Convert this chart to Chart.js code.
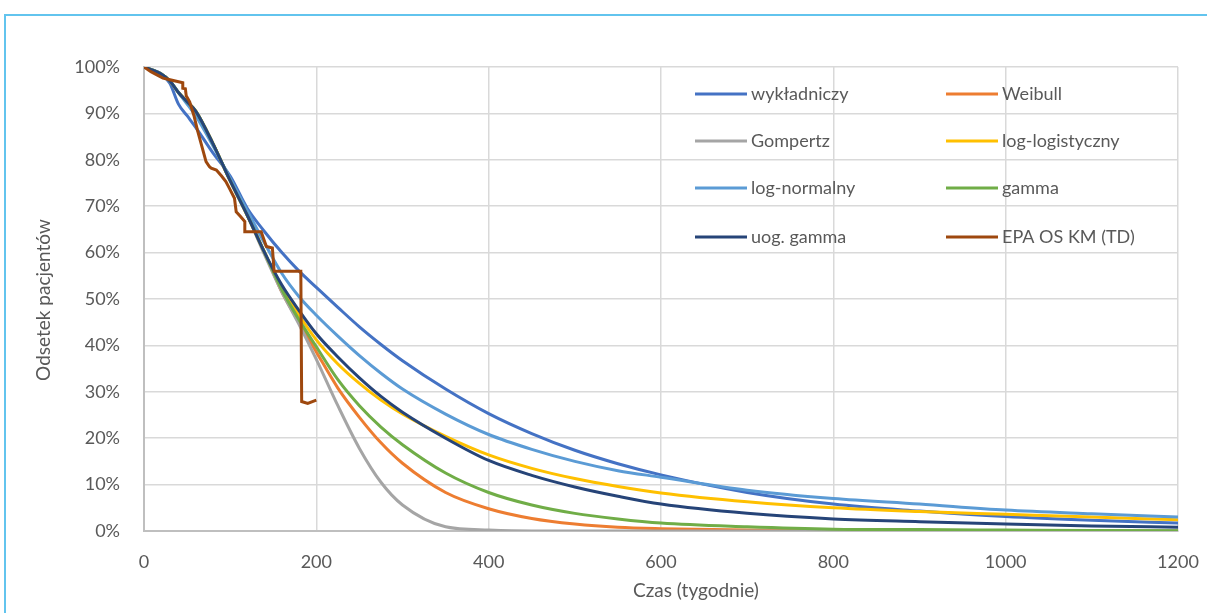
<!DOCTYPE html>
<html>
<head>
<meta charset="utf-8">
<script src="https://cdn.jsdelivr.net/npm/chart.js@4.4.1/dist/chart.umd.min.js"></script>
<style>
  html, body { margin: 0; padding: 0; background: #fff; }
  #wrap { position: relative; width: 1207px; height: 613px; overflow: hidden; }
  #frame { position: absolute; left: 4px; top: 14px; width: 1300px; height: 700px; border: 2px solid #62c4ee; box-sizing: border-box; }
  #chart { position: absolute; left: 0; top: 0; }
</style>
</head>
<body>
<div id="wrap">
  <div id="frame"></div>
  <canvas id="chart" width="1207" height="613"></canvas>
</div>
<script>
// weeks (x) for the fitted curves
const weeks = [0, 20, 30, 40, 50, 60, 80, 100, 120, 140, 160, 180, 200, 225, 250, 275, 300, 350, 400, 450, 500, 550, 600, 700, 800, 900, 1000, 1100, 1200];

// survival in %
const wykladniczy  = [100, 98.5, 96.5, 92, 89.5, 87, 81.5, 76.5, 69.5, 64.5, 60, 56, 52.5, 48.2, 44, 40.2, 36.7, 30.6, 25.3, 21, 17.4, 14.5, 12.1, 8.3, 5.8, 4.3, 3.1, 2.3, 1.7];
const weibull      = [100, 98.5, 97, 94.5, 92.5, 90.5, 83.5, 75.5, 68, 60, 51.5, 45, 38.6, 30.8, 24.5, 19, 14.6, 8.3, 4.8, 2.7, 1.5, 0.8, 0.5, 0.2, 0.1, 0, 0, 0, 0];
const gompertz     = [100, 98.5, 97, 94.5, 92.5, 90.5, 83.5, 75.5, 68, 59.5, 51.5, 44.5, 37, 27, 17.8, 10.5, 5.6, 0.9, 0.2, 0, 0, 0, 0, 0, 0, 0, 0, 0, 0];
const logLogist    = [100, 98.5, 97, 94.5, 92.5, 90.5, 83.5, 75.5, 68, 60, 52.5, 46.5, 41.2, 36, 31.8, 28.2, 25.2, 20.4, 16.4, 13.5, 11.3, 9.6, 8.2, 6.3, 5, 4.2, 3.6, 3.0, 2.4];
const logNormal    = [100, 98.5, 97, 94.5, 92, 89.5, 83, 76, 69, 62, 55.5, 50.5, 46.5, 42, 37.8, 34, 30.6, 25.2, 20.8, 17.6, 15, 13, 11.6, 8.8, 7, 5.8, 4.5, 3.7, 3.0];
const gamma        = [100, 98.5, 97, 94.5, 92.5, 90.5, 83.5, 75.5, 68, 60, 52, 45.5, 39.7, 32.6, 27, 22.4, 18.6, 12.5, 8.3, 5.6, 3.8, 2.6, 1.7, 0.9, 0.4, 0.3, 0.2, 0.1, 0.05];
const uogGamma     = [100, 98.5, 97, 94.5, 92.5, 90.5, 83.5, 75.5, 68, 60, 53, 47.5, 42.5, 37.5, 33, 29, 25.6, 20, 15.2, 12, 9.5, 7.5, 5.8, 3.8, 2.6, 2.0, 1.5, 1.1, 0.8];

// Kaplan-Meier steps
const kmWeeks = [0, 8, 15, 22, 29, 45, 45, 48, 49, 53, 58, 62, 67, 72, 76, 78, 84, 90, 95, 99, 105, 107, 112, 117, 117, 136, 142, 149, 151, 182, 183, 190, 200];
const kmValues = [100, 99, 98.3, 97.6, 97.3, 96.6, 95.4, 95.3, 93.8, 92.5, 89.5, 86.4, 83, 79.6, 78.5, 78.2, 77.8, 76.5, 75.3, 73.9, 71.7, 68.8, 67.8, 66.7, 64.5, 64.5, 61.3, 61, 56, 56, 27.9, 27.5, 28.2];

const seriesNames = ['wykładniczy', 'Weibull', 'Gompertz', 'log-logistyczny', 'log-normalny', 'gamma', 'uog. gamma', 'EPA OS KM (TD)'];
const seriesColors = ['#4472C4', '#ED7D31', '#A5A5A5', '#FFC000', '#5B9BD5', '#70AD47', '#264478', '#9E480E'];

const xTicks = [0, 200, 400, 600, 800, 1000, 1200];

const fitted = [wykladniczy, weibull, gompertz, logLogist, logNormal, gamma, uogGamma];

const datasets = fitted.map((vals, i) => ({
  label: seriesNames[i],
  data: weeks.map((w, j) => ({ x: w, y: vals[j] })),
  borderColor: seriesColors[i],
  borderWidth: 3,
  pointRadius: 0,
  cubicInterpolationMode: 'monotone',
  fill: false,
  order: 8 - i
}));
datasets.push({
  label: seriesNames[7],
  data: kmWeeks.map((w, j) => ({ x: w, y: kmValues[j] })),
  borderColor: seriesColors[7],
  borderWidth: 3,
  pointRadius: 0,
  tension: 0,
  fill: false,
  order: 0
});

const textColor = '#595959';
const fontFamily = 'Lato, "Open Sans", sans-serif';

// legend inside plot + axis titles at their own positions
const overlay = {
  id: 'overlay',
  afterDatasetsDraw(chart) {
    const ctx = chart.ctx;
    ctx.save();
    ctx.font = '18px ' + fontFamily;
    ctx.fillStyle = textColor;
    ctx.textBaseline = 'middle';
    ctx.textAlign = 'left';
    const rowY = [94, 141, 188, 237];
    const colX = [695, 946];
    chart.data.datasets.forEach((ds, i) => {
      const x = colX[i % 2];
      const y = rowY[Math.floor(i / 2)];
      ctx.strokeStyle = ds.borderColor;
      ctx.lineWidth = 3;
      ctx.beginPath();
      ctx.moveTo(x, y);
      ctx.lineTo(x + 52, y);
      ctx.stroke();
      ctx.fillText(ds.label, x + 56, y);
    });

    // axis titles
    ctx.font = '19px ' + fontFamily;
    ctx.textAlign = 'center';
    ctx.fillText('Czas (tygodnie)', 696, 591);
    ctx.translate(44, 300);
    ctx.rotate(-Math.PI / 2);
    ctx.fillText('Odsetek pacjentów', 0, 0);
    ctx.restore();
  }
};

new Chart(document.getElementById('chart'), {
  type: 'line',
  data: { datasets: datasets },
  options: {
    responsive: false,
    animation: false,
    layout: { padding: { top: 67, right: 29, left: 0, bottom: 0 } },
    plugins: {
      legend: { display: false },
      tooltip: { enabled: false }
    },
    scales: {
      x: {
        type: 'linear',
        min: 0,
        max: 1200,
        afterFit: (scale) => {
          scale.height = 82;
          scale.paddingLeft = 0;
          scale.paddingRight = 0;
        },
        afterBuildTicks: (scale) => { scale.ticks = xTicks.map(v => ({ value: v })); },
        grid: { color: '#D9D9D9', lineWidth: 1.5, drawTicks: false },
        border: { color: '#BFBFBF', width: 2 },
        ticks: { color: textColor, font: { family: fontFamily, size: 18 }, padding: 20, maxRotation: 0, callback: (v) => String(v) }
      },
      y: {
        min: 0,
        max: 100,
        afterFit: (scale) => { scale.width = 144; },
        grid: { color: '#D9D9D9', lineWidth: 1.5, drawTicks: false },
        border: { color: '#BFBFBF', width: 2 },
        ticks: {
          stepSize: 10,
          color: textColor,
          font: { family: fontFamily, size: 18 },
          padding: 24,
          callback: (v) => v + '%'
        }
      }
    }
  },
  plugins: [overlay]
});
</script>
</body>
</html>
